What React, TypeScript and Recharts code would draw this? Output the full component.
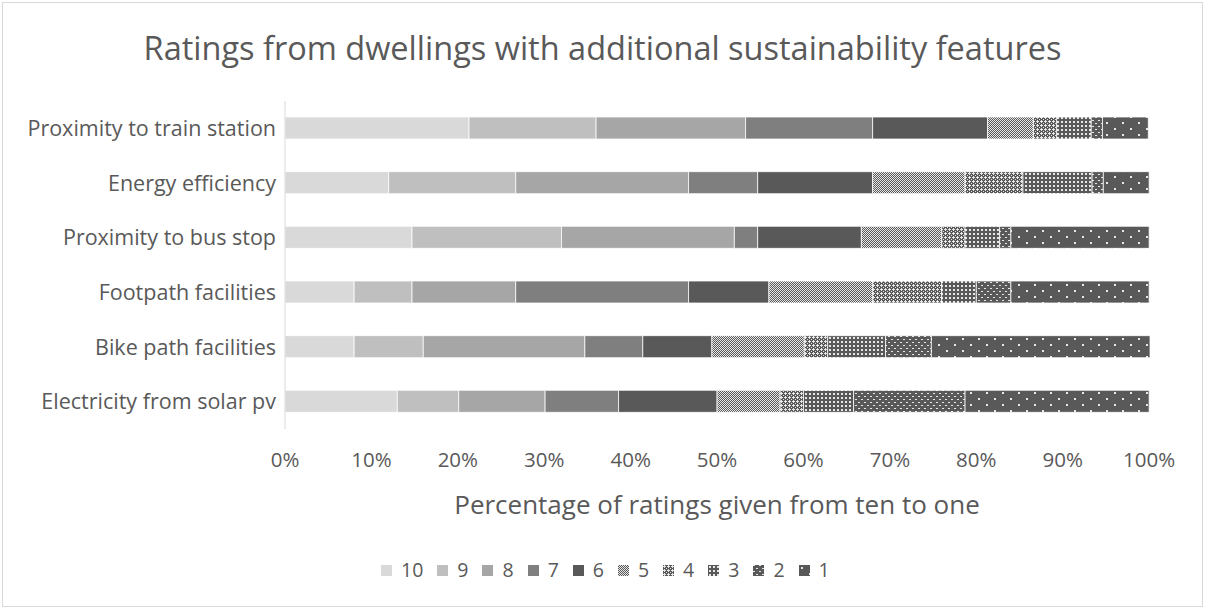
import React from "react";
import { BarChart, Bar, XAxis, YAxis } from "recharts";

const categories = [
  "Proximity to train station",
  "Energy efficiency",
  "Proximity to bus stop",
  "Footpath facilities",
  "Bike path facilities",
  "Electricity from solar pv",
];
const ratingKeys = ["r10", "r9", "r8", "r7", "r6", "r5", "r4", "r3", "r2", "r1"];
const ratingLabels = ["10", "9", "8", "7", "6", "5", "4", "3", "2", "1"];
const r10 = [21.3, 12.0, 14.7, 8.0, 8.0, 13.0];
const r9 = [14.7, 14.7, 17.3, 6.7, 8.0, 7.1];
const r8 = [17.3, 20.0, 20.0, 12.0, 18.7, 10.0];
const r7 = [14.7, 8.0, 2.7, 20.0, 6.7, 8.5];
const r6 = [13.3, 13.3, 12.0, 9.3, 8.0, 11.4];
const r5 = [5.3, 10.7, 9.3, 12.0, 10.7, 7.3];
const r4 = [2.7, 6.7, 2.7, 8.0, 2.7, 2.7];
const r3 = [4.0, 8.0, 4.0, 4.0, 6.7, 5.8];
const r2 = [1.3, 1.3, 1.3, 4.0, 5.3, 12.9];
const r1 = [5.3, 5.3, 16.0, 16.0, 25.3, 21.3];
const xTicks = [0, 10, 20, 30, 40, 50, 60, 70, 80, 90, 100];

const series = [r10, r9, r8, r7, r6, r5, r4, r3, r2, r1];
const data = categories.map((name, i) => {
  const row: Record<string, any> = { name };
  ratingKeys.forEach((k, j) => {
    row[k] = series[j][i];
  });
  return row;
});

const fills = [
  "#d9d9d9",
  "#bfbfbf",
  "#a6a6a6",
  "#7f7f7f",
  "#595959",
  "url(#p5)",
  "url(#p4)",
  "url(#p3)",
  "url(#p2)",
  "url(#p1)",
];

const FONT = "'Open Sans', 'Noto Sans', sans-serif";
const TXT = "#595959";

function Patterns() {
  const base = "#595959";
  const lite = "#e6e6e6";
  return (
    <svg width={0} height={0} style={{ position: "absolute" }}>
      <defs>
        <pattern id="p5" width={2} height={2} patternUnits="userSpaceOnUse">
          <rect width={2} height={2} fill={base} />
          <rect x={0} y={0} width={1} height={1} fill={lite} />
          <rect x={1} y={1} width={1} height={1} fill={lite} />
        </pattern>
        <pattern id="p4" width={4} height={4} patternUnits="userSpaceOnUse">
          <rect width={4} height={4} fill={base} />
          <rect x={1} y={0} width={1} height={3} fill={lite} />
          <rect x={0} y={1} width={3} height={1} fill={lite} />
          <rect x={3} y={3} width={1} height={1} fill={lite} />
        </pattern>
        <pattern id="p3" width={4} height={4} patternUnits="userSpaceOnUse">
          <rect width={4} height={4} fill={base} />
          <rect x={1} y={1} width={2} height={2} fill={lite} />
        </pattern>
        <pattern id="p2" width={6} height={6} patternUnits="userSpaceOnUse">
          <rect width={6} height={6} fill={base} />
          <rect x={0} y={0} width={2} height={1} fill={lite} />
          <rect x={3} y={3} width={2} height={1} fill={lite} />
        </pattern>
        <pattern id="p1" width={16} height={12} patternUnits="userSpaceOnUse">
          <rect width={16} height={12} fill={base} />
          <rect x={2} y={2} width={2} height={2} fill={lite} />
          <rect x={10} y={8} width={2} height={2} fill={lite} />
        </pattern>
      </defs>
    </svg>
  );
}

export default function App() {
  return (
    <div
      style={{
        position: "absolute",
        left: 0,
        top: 0,
        width: 1205,
        height: 609,
        background: "#fff",
        fontFamily: FONT,
      }}
    >
      <Patterns />
      <div
        style={{
          position: "absolute",
          left: 2,
          top: 2,
          width: 1199,
          height: 603,
          border: "1px solid #d9d9d9",
        }}
      />
      <div
        style={{
          position: "absolute",
          left: 0,
          top: 26,
          width: 1205,
          textAlign: "center",
          fontSize: 32.5,
          color: TXT,
          lineHeight: "44px",
        }}
      >
        Ratings from dwellings with additional sustainability features
      </div>
      <div style={{ position: "absolute", left: 0, top: 0 }}>
        <BarChart
          width={1205}
          height={609}
          data={data}
          layout="vertical"
          margin={{ top: 101, right: 55, bottom: 90, left: 5 }}
          barSize={22}
        >
          <XAxis
            type="number"
            domain={[0, 100]}
            ticks={xTicks}
            tickFormatter={(v: number) => `${v}%`}
            axisLine={false}
            tickLine={false}
            tickMargin={17}
            height={90}
            interval={0}
            tick={{ fill: TXT, fontSize: 20.5, fontFamily: FONT }}
          />
          <YAxis
            type="category"
            dataKey="name"
            width={280}
            axisLine={{ stroke: "#d9d9d9", strokeWidth: 1 }}
            tickLine={false}
            tickMargin={3}
            interval={0}
            tick={{ fill: TXT, fontSize: 21.5, fontFamily: FONT }}
          />
          {ratingKeys.map((k, i) => (
            <Bar
              key={k}
              dataKey={k}
              name={ratingLabels[i]}
              stackId="a"
              fill={fills[i]}
              stroke="#ffffff"
              strokeWidth={0.75}
              isAnimationActive={false}
            />
          ))}
        </BarChart>
      </div>
      <div
        style={{
          position: "absolute",
          left: 285,
          top: 488,
          width: 864,
          textAlign: "center",
          fontSize: 26,
          color: TXT,
          lineHeight: "32px",
          whiteSpace: "nowrap",
        }}
      >
        Percentage of ratings given from ten to one
      </div>
      <div
        style={{
          position: "absolute",
          left: 381,
          top: 557,
          display: "flex",
          alignItems: "center",
          fontSize: 19.5,
          color: TXT,
          lineHeight: "26px",
        }}
      >
        {ratingLabels.map((lab, i) => (
          <div
            key={lab}
            style={{ display: "flex", alignItems: "center", marginRight: 14 }}
          >
            <svg width={11} height={11} style={{ marginRight: 9 }}>
              <rect width={11} height={11} fill={fills[i]} />
            </svg>
            <span>{lab}</span>
          </div>
        ))}
      </div>
    </div>
  );
}
